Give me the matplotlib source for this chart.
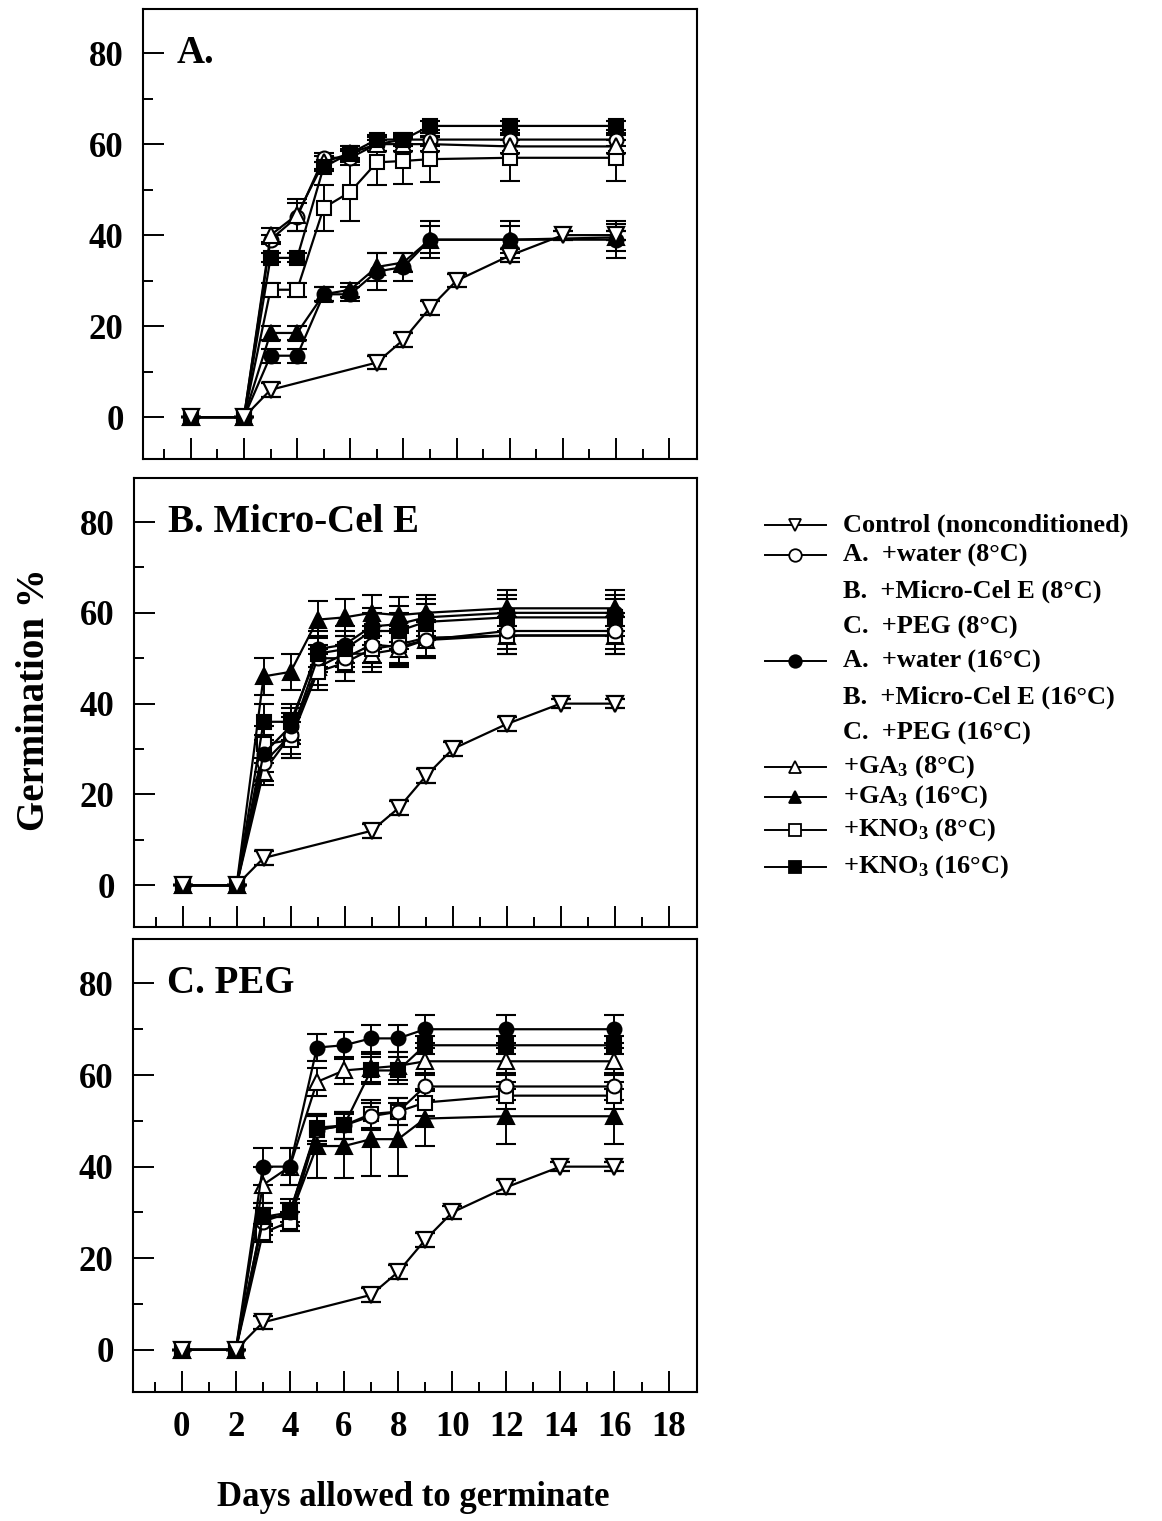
import matplotlib
matplotlib.use("Agg")
import matplotlib.pyplot as plt
from matplotlib.lines import Line2D
from matplotlib.ticker import MultipleLocator, FixedLocator

plt.rcParams["font.family"] = ["Liberation Serif", "DejaVu Serif"]
plt.rcParams["font.weight"] = "bold"
plt.rcParams["mathtext.fontset"] = "custom"
plt.rcParams["mathtext.rm"] = "Liberation Serif:bold"
plt.rcParams["mathtext.it"] = "Liberation Serif:bold"
plt.rcParams["mathtext.bf"] = "Liberation Serif:bold"

# ---- data -------------------------------------------------------------
control_days = [0, 2, 3, 7, 8, 9, 10, 12, 14, 16]
control_vals = [0, 0, 6, 12, 17, 24, 30, 35.5, 40, 40]
control_err = [0, 0, 1.5, 1.5, 1.5, 1.5, 1.5, 1.5, 1, 1]

days = [0, 2, 3, 4, 5, 6, 7, 8, 9, 12, 16]

# Panel A: conditioned in water
a_open_circle = [0, 0, 39, 44, 57, 57, 60, 61, 61, 61, 61]
a_open_circle_err = [0, 0, 1, 3, 1, 1.5, 1.5, 1.5, 1.5, 1.5, 1.5]
a_filled_circle = [0, 0, 13.5, 13.5, 27, 27, 32, 33, 39, 39, 39]
a_filled_circle_err = [0, 0, 1.5, 1.5, 1.5, 1.5, 4, 3, 4, 4, 4]
a_open_tri = [0, 0, 40, 44.5, 56, 58, 60, 60, 60, 59.5, 59.5]
a_open_tri_err = [0, 0, 1.5, 3.5, 1.5, 1.5, 1.5, 1.5, 1.5, 1.5, 1.5]
a_filled_tri = [0, 0, 18.5, 18.5, 27, 28, 33, 34, 39, 39, 39.5]
a_filled_tri_err = [0, 0, 1.5, 1.5, 1.5, 1.5, 3, 2, 3, 3, 3]
a_open_sq = [0, 0, 28, 28, 46, 49.5, 56, 56.3, 56.7, 57, 57]
a_open_sq_err = [0, 0, 1.5, 1.5, 5, 6.5, 5, 5, 5, 5, 5]
a_filled_sq = [0, 0, 35, 35, 55, 58, 61, 61, 64, 64, 64]
a_filled_sq_err = [0, 0, 1, 1, 1, 1, 1, 1, 1, 1, 1]

# Panel B: conditioned in Micro-Cel E
b_open_circle = [0, 0, 27, 33, 50, 50, 53, 52.5, 54, 56, 56]
b_open_circle_err = [0, 0, 4, 4, 3, 3, 4, 4, 4, 4, 4]
b_filled_circle = [0, 0, 29, 35, 52, 53, 57, 57.5, 59, 60, 60]
b_filled_circle_err = [0, 0, 4, 4, 4, 4, 4, 4, 4, 4, 4]
b_open_tri = [0, 0, 25, 33, 48, 51, 51, 52, 54, 55, 55]
b_open_tri_err = [0, 0, 3, 5, 4, 4, 4, 4, 4, 4, 4]
b_filled_tri = [0, 0, 46, 47, 58.5, 59, 60, 59.5, 60, 61, 61]
b_filled_tri_err = [0, 0, 4, 4, 4, 4, 4, 4, 4, 4, 4]
b_open_sq = [0, 0, 31, 32, 47, 49, 52, 53, 54.5, 55, 55]
b_open_sq_err = [0, 0, 4, 4, 4, 4, 4, 4, 4, 4, 4]
b_filled_sq = [0, 0, 36, 36, 51, 52, 56, 56, 58, 59, 59]
b_filled_sq_err = [0, 0, 4, 4, 4, 4, 4, 4, 4, 4, 4]

# Panel C: conditioned in PEG
c_open_circle = [0, 0, 28, 30, 48, 49, 51, 52, 57.5, 57.5, 57.5]
c_open_circle_err = [0, 0, 3, 3, 3, 3, 3, 3, 3, 3, 3]
c_filled_circle = [0, 0, 40, 40, 66, 66.5, 68, 68, 70, 70, 70]
c_filled_circle_err = [0, 0, 4, 4, 3, 3, 3, 3, 3, 3, 3]
c_open_tri = [0, 0, 36, 40, 58.5, 61, 61.5, 62, 63, 63, 63]
c_open_tri_err = [0, 0, 4, 4, 3, 3, 3, 3, 3, 3, 3]
c_filled_tri = [0, 0, 29, 29, 44.5, 44.5, 46, 46, 50.5, 51, 51]
c_filled_tri_err = [0, 0, 3, 3, 7, 7, 8, 8, 6, 6, 6]
c_open_sq = [0, 0, 25.5, 28, 48, 49, 51.5, 52, 54, 55.5, 55.5]
c_open_sq_err = [0, 0, 2, 2, 3, 3, 3, 3, 3, 3, 3]
c_filled_sq = [0, 0, 29, 30, 48.5, 49, 61, 61, 66.5, 66.5, 66.5]
c_filled_sq_err = [0, 0, 2, 2, 3, 3, 3, 3, 2, 2, 2]

panel_titles = ["A.", "B. Micro-Cel E", "C. PEG"]
y_ticks = [0, 20, 40, 60, 80]
x_ticks = [0, 2, 4, 6, 8, 10, 12, 14, 16, 18]

legend_labels = [
    "Control (nonconditioned)",
    "A.  +water (8\u00b0C)",
    "B.  +Micro-Cel E (8\u00b0C)",
    "C.  +PEG (8\u00b0C)",
    "A.  +water (16\u00b0C)",
    "B.  +Micro-Cel E (16\u00b0C)",
    "C.  +PEG (16\u00b0C)",
    "+GA$_3$ (8\u00b0C)",
    "+GA$_3$ (16\u00b0C)",
    "+KNO$_3$ (8\u00b0C)",
    "+KNO$_3$ (16\u00b0C)",
]

# ---- styles -----------------------------------------------------------
styles = {
    "open_circle": dict(marker="o", mfc="white", ms=10),
    "filled_circle": dict(marker="o", mfc="black", ms=10),
    "open_tri": dict(marker="^", mfc="white", ms=11),
    "filled_tri": dict(marker="^", mfc="black", ms=11),
    "open_sq": dict(marker="s", mfc="white", ms=9.5),
    "filled_sq": dict(marker="s", mfc="black", ms=9.5),
}

panels = [
    [("filled_circle", a_filled_circle, a_filled_circle_err),
     ("filled_tri", a_filled_tri, a_filled_tri_err),
     ("open_sq", a_open_sq, a_open_sq_err),
     ("open_circle", a_open_circle, a_open_circle_err),
     ("open_tri", a_open_tri, a_open_tri_err),
     ("filled_sq", a_filled_sq, a_filled_sq_err)],
    [("open_tri", b_open_tri, b_open_tri_err),
     ("open_sq", b_open_sq, b_open_sq_err),
     ("open_circle", b_open_circle, b_open_circle_err),
     ("filled_sq", b_filled_sq, b_filled_sq_err),
     ("filled_circle", b_filled_circle, b_filled_circle_err),
     ("filled_tri", b_filled_tri, b_filled_tri_err)],
    [("filled_tri", c_filled_tri, c_filled_tri_err),
     ("open_sq", c_open_sq, c_open_sq_err),
     ("open_circle", c_open_circle, c_open_circle_err),
     ("open_tri", c_open_tri, c_open_tri_err),
     ("filled_sq", c_filled_sq, c_filled_sq_err),
     ("filled_circle", c_filled_circle, c_filled_circle_err)],
]

W, H = 1162, 1521
fig = plt.figure(figsize=(W / 100, H / 100), dpi=100)


def rect(left, top, right, bottom):
    return [left / W, 1 - bottom / H, (right - left) / W, (bottom - top) / H]


boxes = [rect(143, 9, 697, 459), rect(134, 478, 697, 927), rect(133, 939, 697, 1392)]

for i, (box, series, title) in enumerate(zip(boxes, panels, panel_titles)):
    ax = fig.add_axes(box)
    for key, vals, err in series:
        st = styles[key]
        ax.errorbar(days, vals, yerr=err, color="black", lw=1.6,
                    marker=st["marker"], ms=st["ms"], mfc=st["mfc"],
                    mec="black", mew=1.5, capsize=7, capthick=1.6,
                    elinewidth=1.4, zorder=3)
    ax.errorbar(control_days, control_vals, yerr=control_err, color="black",
                lw=1.6, marker="v", ms=12, mfc="white", mec="black", mew=1.6,
                capsize=7, capthick=1.6, elinewidth=1.4, zorder=4)

    ax.set_xlim(-1.8, 19.05)
    ax.set_ylim(-9.2, 89.7)
    ax.xaxis.set_major_locator(FixedLocator(x_ticks))
    ax.xaxis.set_minor_locator(FixedLocator([-1, 1, 3, 5, 7, 9, 11, 13, 15, 17]))
    ax.yaxis.set_major_locator(FixedLocator(y_ticks))
    ax.yaxis.set_minor_locator(FixedLocator([10, 30, 50, 70]))
    ax.tick_params(which="both", direction="in", top=False, right=False,
                   width=1.4, labelsize=25, pad=14)
    ax.tick_params(which="major", length=15)
    ax.tick_params(which="minor", length=7.5)
    for lab in ax.get_yticklabels() + ax.get_xticklabels():
        lab.set_fontweight("bold")
    if i < 2:
        ax.set_xticklabels([])
    for sp in ax.spines.values():
        sp.set_linewidth(1.5)
    ax.text(0.06, 80, title, transform=ax.get_yaxis_transform(),
            fontsize=28, fontweight="bold", va="center", ha="left")

fig.text(35 / W, 1 - 700 / H, "Germination %", rotation=90, ha="center",
         va="center", fontsize=28, fontweight="bold")
fig.text(413 / W, 1 - 1497 / H, "Days allowed to germinate", ha="center",
         va="center", fontsize=25, fontweight="bold")

# ---- legend drawn beside the panels -----------------------------------
legend_rows = [525, 555, 591, 627, 661, 697, 733, 767, 797, 830, 867]
legend_handles = [("v", "white"), ("o", "white"), None, None, ("o", "black"),
                  None, None, ("^", "white"), ("^", "black"), ("s", "white"),
                  ("s", "black")]
for y, label, handle in zip(legend_rows, legend_labels, legend_handles):
    yf = 1 - y / H
    if handle is not None:
        mk, fc = handle
        fig.add_artist(Line2D([765 / W, 826 / W], [yf, yf], color="black",
                              lw=1.4, transform=fig.transFigure))
        fig.add_artist(Line2D([795 / W], [yf], marker=mk, ms=9, mfc=fc,
                              mec="black", mew=1.3, color="black",
                              transform=fig.transFigure))
    fig.text(843 / W, yf, label, ha="left", va="center", fontsize=19,
             fontweight="bold")

fig.savefig("out.png", dpi=100)
